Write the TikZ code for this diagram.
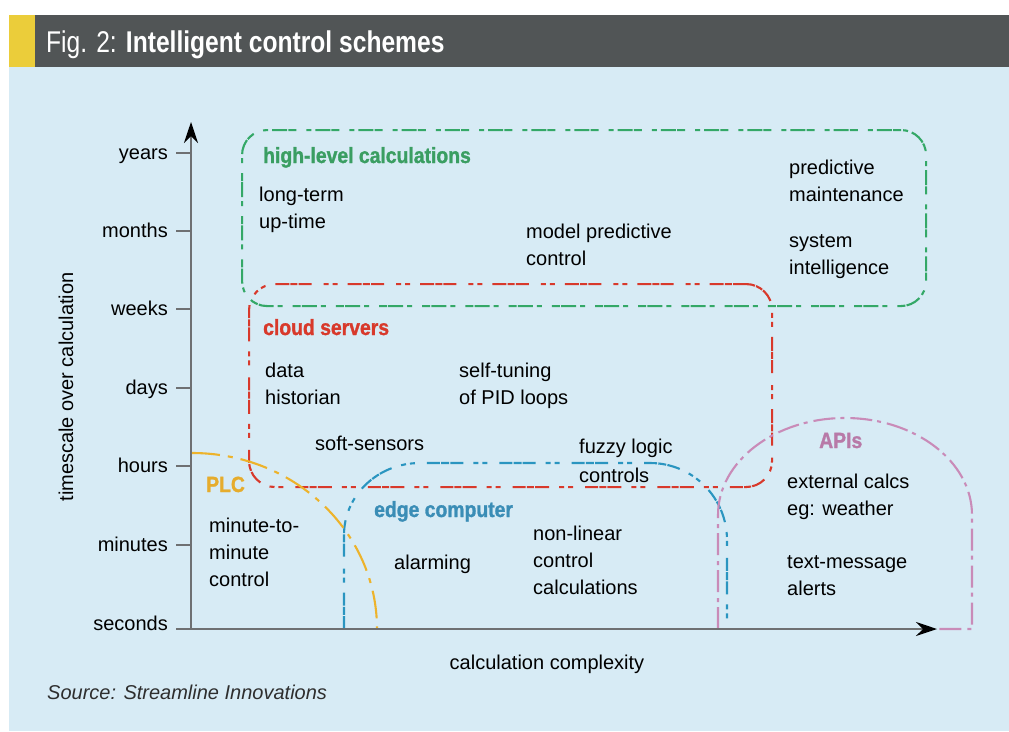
\documentclass[tikz,border=0pt]{standalone}
\usepackage{fontspec}
\setmainfont{Liberation Sans}
\newfontfamily\titlefont[FakeStretch=0.82]{Liberation Sans}
\newfontfamily\lblfont[FakeStretch=0.88, BoldFeatures={FakeBold=1.2}]{Liberation Sans}
\usetikzlibrary{arrows.meta}
\definecolor{bgblue}{HTML}{D7EBF5}
\definecolor{headgray}{HTML}{515556}
\definecolor{headyellow}{HTML}{EBCD3A}
\definecolor{axisgray}{HTML}{6E7072}
\definecolor{zgreen}{HTML}{34A867}
\definecolor{lgreen}{HTML}{3A9E62}
\definecolor{zred}{HTML}{D8392B}
\definecolor{zyellow}{HTML}{EDB32B}
\definecolor{lyellow}{HTML}{E6AC2C}
\definecolor{zblue}{HTML}{2A95C0}
\definecolor{lblue}{HTML}{3A8DB6}
\definecolor{zpink}{HTML}{C98BB8}
\definecolor{lpink}{HTML}{B87AA8}
\definecolor{srcgray}{HTML}{2E2E2E}
\begin{document}
\begin{tikzpicture}[x=1pt,y=-1pt,
  body/.style={anchor=north west, yshift=18.9pt, inner sep=0pt, align=left, text=black,
    font=\fontsize{20}{27}\selectfont},
  lbl/.style={anchor=base west, inner sep=0pt, font=\lblfont\fontsize{22}{26}\selectfont\bfseries},
  ylab/.style={anchor=base east, inner sep=0pt, text=black, font=\fontsize{20}{24}\selectfont},
  axisline/.style={draw=axisgray, line width=1.4pt},
  tickline/.style={draw=axisgray, line width=1.2pt},
  tipstyle/.style={-{Stealth[length=21pt,width=14pt,inset=7pt,color=black]}},
  zone/.style={line width=2.1pt, fill=none},
  greenzone/.style={zone, draw=zgreen,
    dash pattern=on 8pt off 1.2pt on 15pt off 4pt on 5pt off 10pt},
  redzone/.style={zone, draw=zred,
    dash pattern=on 13pt off 1.2pt on 7pt off 1.2pt on 14pt off 10pt on 5pt off 4pt on 5pt off 12pt},
  bluezone/.style={zone, draw=zblue,
    dash pattern=on 13pt off 1.2pt on 8pt off 1.2pt on 13pt off 10pt on 5pt off 4pt on 5pt off 12pt},
  yellowzone/.style={zone, draw=zyellow, dash pattern=on 28pt off 8pt on 5pt off 8pt},
  pinkzone/.style={zone, draw=zpink, dash pattern=on 22pt off 5pt on 4pt off 6pt}
]
\useasboundingbox (0,0) rectangle (1009,731);
\fill[white] (0,0) rectangle (1009,731);
\fill[bgblue] (9,67) rectangle (1009,731);
\fill[headgray] (9,15) rectangle (1009,67);
\fill[headyellow] (9,15) rectangle (35,67);
\node[anchor=base west, inner sep=0pt, text=white, font=\titlefont\fontsize{30}{36}\selectfont]
  (title) at (46,52) {Fig. 2: \textbf{Intelligent control schemes}};

% zones
\node[greenzone, rounded corners=25pt, anchor=north west, inner sep=0pt,
  minimum width=684pt, minimum height=176pt] (hlc) at (241,129) {};
\node[redzone, rounded corners=26pt, anchor=north west, inner sep=0pt,
  minimum width=523pt, minimum height=203pt] (cloud) at (248,283) {};
\draw[bluezone] (344,629) -- (344,535)
  arc[start angle=180,end angle=270,x radius=76,y radius=72] -- (650,463)
  arc[start angle=270,end angle=360,radius=77] -- (727,629);
\draw[yellowzone] (192,453) arc[start angle=270,end angle=360,x radius=185,y radius=176];
\draw[pinkzone] (718,629) -- (718,515)
  arc[start angle=180,end angle=360,x radius=127,y radius=97] -- (972,629) -- (937,629);

% axes
\coordinate (O) at (191,629);
\coordinate (ytop) at (191,122);
\coordinate (xleft) at (176,629);
\coordinate (xright) at (937,629);
\draw[axisline, tipstyle] (O) -- (ytop);
\draw[axisline, tipstyle] (xleft) -- (xright);
\foreach \nm/\yy in {years/153, months/231, weeks/309, days/388, hours/466, minutes/545}{
  \coordinate (tl-\nm) at (176,\yy);
  \coordinate (tr-\nm) at (191,\yy);
  \draw[tickline] (tl-\nm) -- (tr-\nm);
  \node[ylab] (lab-\nm) at (168,\yy+6) {\nm};
}
\node[ylab] (lab-seconds) at (168,630) {seconds};
\node[rotate=90, anchor=base, inner sep=0pt, font=\fontsize{20}{24}\selectfont]
  (ylabel) at (73,387) {timescale over calculation};
\node[anchor=base, inner sep=0pt, font=\fontsize{20}{24}\selectfont]
  (xlabel) at (547,669) {calculation complexity};
\node[anchor=base west, inner sep=0pt, text=srcgray, font=\fontsize{20}{24}\selectfont\itshape]
  (source) at (47,699) {Source: Streamline Innovations};

% labels
\node[lbl, text=lgreen] (hlcl) at (263,163) {high-level calculations};
\node[lbl, text=zred] (cloudl) at (263,335) {cloud servers};
\node[lbl, text=lyellow] (plcl) at (206,492) {PLC};
\node[lbl, text=lblue] (edgel) at (374,517) {edge computer};
\node[lbl, text=lpink] (apil) at (819,448) {APIs};

% texts
\node[body] (longterm) at (259,201) {\strut long-term\\up-time};
\node[body] (mpc) at (526,238) {\strut model predictive\\control};
\node[body] (pm) at (789,174) {\strut predictive\\maintenance};
\node[body] (si) at (789,247) {\strut system\\intelligence};
\node[body] (data) at (265,377) {\strut data\\historian};
\node[body] (selftune) at (459,377) {\strut self-tuning\\of PID loops};
\node[body] (soft) at (315,450) {\strut soft-sensors};
\node[body] (fuzzy) at (579,453) {\strut fuzzy logic\\[2pt]controls};
\node[body] (minute) at (209,532) {\strut minute-to-\\minute\\control};
\node[body] (alarm) at (394,569) {\strut alarming};
\node[body] (nonlin) at (533,540) {\strut non-linear\\control\\calculations};
\node[body] (ext) at (787,488) {\strut external calcs\\eg: weather};
\node[body] (textmsg) at (787,568) {\strut text-message\\alerts};
\end{tikzpicture}
\end{document}
